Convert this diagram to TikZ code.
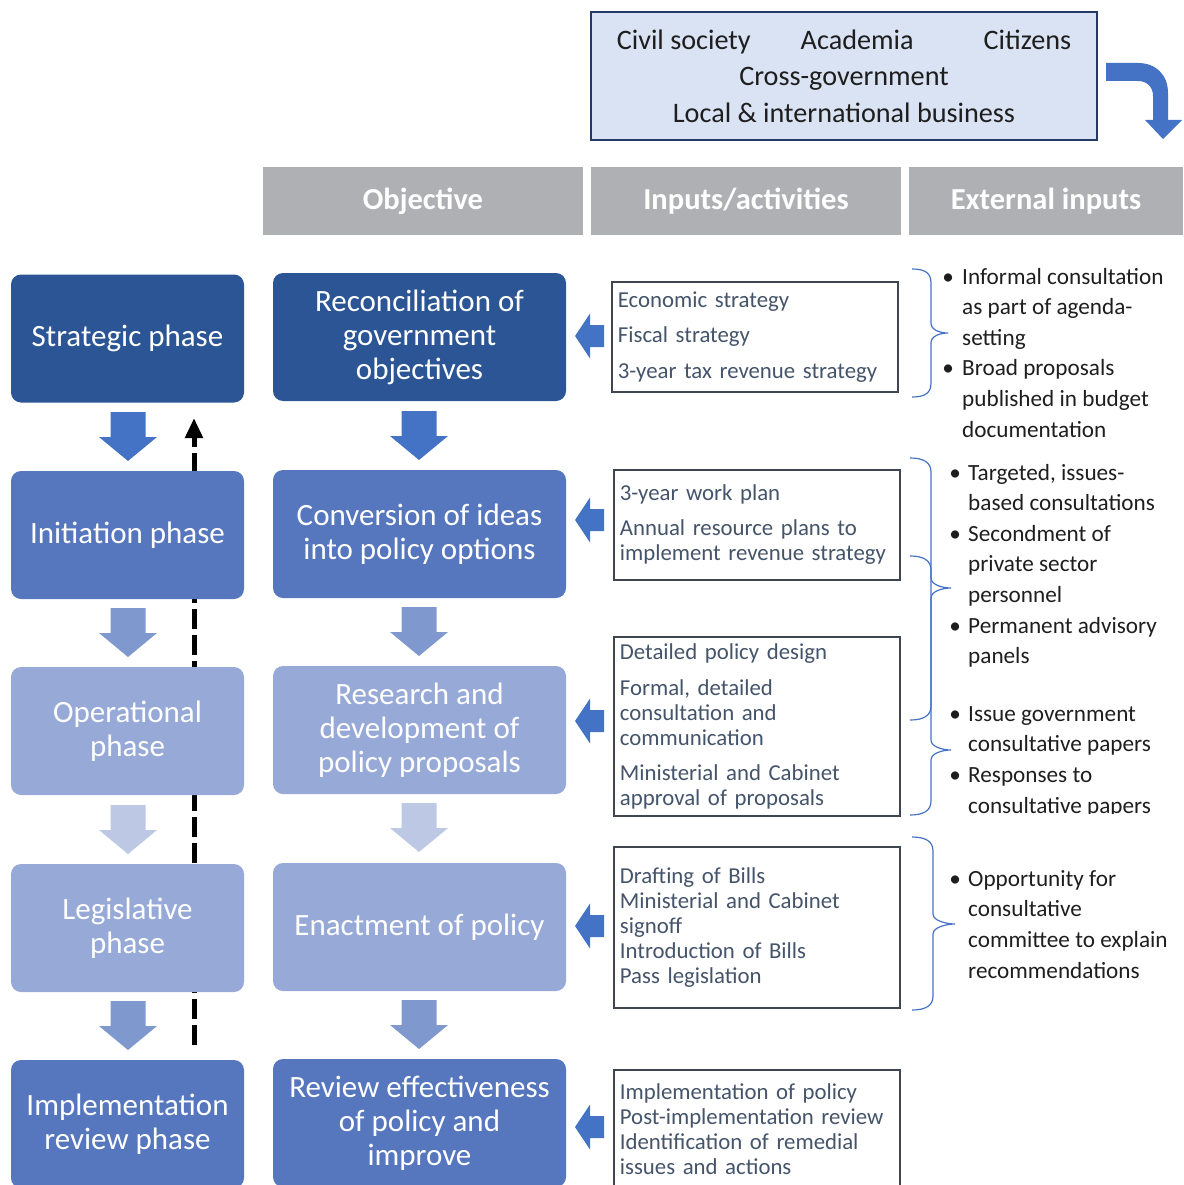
\documentclass[tikz,border=0pt]{standalone}
\usepackage{fontspec}
\setmainfont{Carlito}
\usetikzlibrary{arrows.meta,calc}
\definecolor{dkblue}{HTML}{2B5595}
\definecolor{midblue}{HTML}{5677BD}
\definecolor{ltblue}{HTML}{97A9D6}
\definecolor{arrA}{HTML}{4472C4}
\definecolor{arrB}{HTML}{7F98CE}
\definecolor{arrC}{HTML}{BCC8E4}
\definecolor{hdrgray}{HTML}{AFB0B3}
\definecolor{topfill}{HTML}{DAE3F3}
\definecolor{topborder}{HTML}{243A66}
\definecolor{inborder}{HTML}{3F4652}
\definecolor{intext}{HTML}{44546A}
\definecolor{bracecol}{HTML}{4472C4}
\definecolor{bultext}{HTML}{1E1E1E}
\tikzset{
  phasebox/.style={rounded corners=10pt, minimum width=233pt, minimum height=128pt, align=center,
    text=white, font=\fontsize{31}{34}\selectfont, inner sep=0pt},
  objbox/.style={phasebox, minimum width=293pt},
  hdr/.style={fill=hdrgray, minimum height=68pt, inner sep=0pt, text=white,
    font=\bfseries\fontsize{30.5}{32}\selectfont},
  inbox/.style={draw=inborder, line width=1.8pt, fill=white, anchor=north west, text width=274pt,
    align=left, inner xsep=6pt, inner ysep=0pt, text=intext, font=\fontsize{22.8}{25}\selectfont},
  bullist/.style={anchor=west, inner sep=0pt, text=bultext, font=\fontsize{23.2}{30.6}\selectfont},
  bracepath/.style={draw=bracecol, line width=1.2pt},
}
\newcommand{\myDown}[3]{\fill[#3] (#1,#2) ++(-17.5,0) -- ++(35,0) -- ++(0,25) -- ++(11.5,0) -- ++(-29,24) -- ++(-29,-24) -- ++(11.5,0) -- cycle;}
\newcommand{\myLeft}[1]{\fill[arrA] (604,#1) ++(0,-11) -- ++(-14,0) -- ++(0,-11.5) -- ++(-15,22.5) -- ++(15,22.5) -- ++(0,-11.5) -- ++(14,0) -- cycle;}
% xl xv xt ytop ytip ybot
\newcommand{\myBrace}[6]{\draw[bracepath] (#1,#4) .. controls ($(#1,#4)+(13,0)$) and ($(#2,#4)+(0,4)$) .. ($(#2,#4)+(0,14)$)
  -- ($(#2,#5)+(0,-10)$) .. controls ($(#2,#5)+(0,-3)$) and ($(#3,#5)+(-8,0)$) .. (#3,#5)
  .. controls ($(#3,#5)+(-8,0)$) and ($(#2,#5)+(0,3)$) .. ($(#2,#5)+(0,10)$)
  -- ($(#2,#6)+(0,-14)$) .. controls ($(#2,#6)+(0,-4)$) and ($(#1,#6)+(13,0)$) .. (#1,#6);}
\begin{document}
\begin{tikzpicture}[x=1pt,y=-1pt]
\useasboundingbox (0,0) rectangle (1183,1185);
\begin{scope}
\clip (0,0) rectangle (1183,1185);
% top box
\node[draw=topborder, line width=2pt, fill=topfill, minimum width=506pt, minimum height=128pt, inner sep=0pt,
  align=center, font=\fontsize{28.2}{36.5}\selectfont, text=bultext] (top) at (844,76)
  {Civil society\hspace{50pt}Academia\hspace{70pt}Citizens\\Cross-government\\Local \& international business};
% curved arrow
\fill[arrA] (1106,63) -- (1138,63) .. controls (1156,63) and (1168,75) .. (1168,93) -- (1168,120) -- (1182,120)
  -- (1163,139) -- (1145,120) -- (1153,120) -- (1153,96) .. controls (1153,87) and (1147,81) .. (1138,81)
  -- (1106,81) -- cycle;
% headers
\node[hdr, minimum width=320pt] (h1) at (423,201) {Objective};
\node[hdr, minimum width=310pt] (h2) at (746,201) {Inputs/activities};
\node[hdr, minimum width=274pt] (h3) at (1046,201) {External inputs};
% dashed feedback arrow
\coordinate (dstart) at (194,1045);
\coordinate (dend) at (194,418);
\draw[line width=5pt, dash pattern=on 20pt off 6pt, -{Triangle[length=20pt,width=17pt]}] (dstart) -- (dend);
% phase boxes
\node[phasebox, fill=dkblue] (p1) at (127.5,338.5) {Strategic phase};
\node[phasebox, fill=midblue] (p2) at (127.5,535) {Initiation phase};
\node[phasebox, fill=ltblue] (p3) at (127.5,731) {Operational\\phase};
\node[phasebox, fill=ltblue] (p4) at (127.5,928) {Legislative\\phase};
\node[phasebox, fill=midblue] (p5) at (127.5,1124) {Implementation\\review phase};
% objective boxes
\node[objbox, fill=dkblue] (o1) at (419.5,337) {Reconciliation of\\government\\objectives};
\node[objbox, fill=midblue] (o2) at (419.5,534) {Conversion of ideas\\into policy options};
\node[objbox, fill=ltblue] (o3) at (419.5,730) {Research and\\development of\\policy proposals};
\node[objbox, fill=ltblue] (o4) at (419.5,927) {Enactment of policy};
\node[objbox, fill=midblue] (o5) at (419.5,1123) {Review effectiveness\\of policy and\\improve};
% down arrows
\myDown{128}{412}{arrA}
\myDown{128}{608}{arrB}
\myDown{128}{805}{arrC}
\myDown{128}{1001}{arrB}
\myDown{419}{411}{arrA}
\myDown{419}{607}{arrB}
\myDown{419}{803}{arrC}
\myDown{419}{1000}{arrB}
% input boxes
\node[inbox, minimum height=110pt] (i1) at (611,281) {Economic strategy\\[10.5pt]Fiscal strategy\\[10.5pt]3-year tax revenue strategy};
\node[inbox, minimum height=110pt] (i2) at (613,469) {3-year work plan\\[10pt]Annual resource plans to\\implement revenue strategy};
\node[inbox, minimum height=179pt] (i3) at (613,636) {Detailed policy design\\[11pt]Formal, detailed\\consultation and\\communication\\[10pt]Ministerial and Cabinet\\approval of proposals};
\node[inbox, minimum height=161pt] (i4) at (613,846) {Drafting of Bills\\Ministerial and Cabinet\\signoff\\Introduction of Bills\\Pass legislation};
\node[inbox, minimum height=118pt] (i5) at (613,1069) {Implementation of policy\\Post-implementation review\\Identification of remedial\\issues and actions};
% left arrows
\myLeft{336}
\myLeft{520}
\myLeft{721}
\myLeft{926}
\myLeft{1127}
% braces
\myBrace{912}{931}{948}{269}{333}{397}
\myBrace{910}{931}{951}{458}{588}{720}
\myBrace{910}{931}{951}{556}{750}{815}
\myBrace{912}{933}{955}{837}{924}{1010}
% bullet lists
\node[bullist] (b1) at (942,354.5) {\begin{tabular}{@{}l@{\hspace{8pt}}l@{}}
\makebox[12pt]{\textbullet} & Informal consultation\\ & as part of agenda-\\ & setting\\
\makebox[12pt]{\textbullet} & Broad proposals\\ & published in budget\\ & documentation\end{tabular}};
\begin{scope}
\clip (905,440) rectangle (1183,813);
\node[bullist] (b2) at (949,640.5) {\begin{tabular}{@{}l@{\hspace{7pt}}l@{}}
\makebox[12pt]{\textbullet} & Targeted, issues-\\ & based consultations\\
\makebox[12pt]{\textbullet} & Secondment of\\ & private sector\\ & personnel\\
\makebox[12pt]{\textbullet} & Permanent advisory\\ & panels\\[27pt]
\makebox[12pt]{\textbullet} & Issue government\\ & consultative papers\\
\makebox[12pt]{\textbullet} & Responses to\\ & consultative papers\end{tabular}};
\end{scope}
\node[bullist] (b4) at (949,926) {\begin{tabular}{@{}l@{\hspace{7pt}}l@{}}
\makebox[12pt]{\textbullet} & Opportunity for\\ & consultative\\ & committee to explain\\ & recommendations\end{tabular}};
\end{scope}
\end{tikzpicture}
\end{document}
